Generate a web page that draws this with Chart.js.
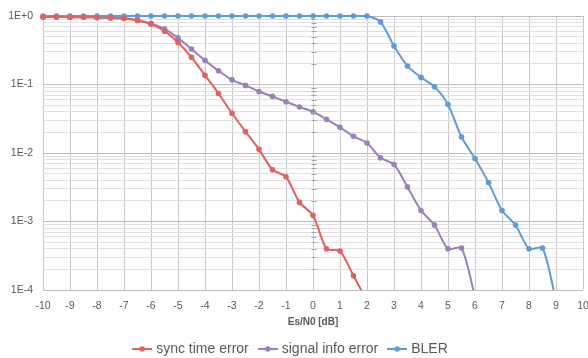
<!DOCTYPE html>
<html>
<head>
<meta charset="utf-8">
<script src="https://cdn.jsdelivr.net/npm/chart.js@4/dist/chart.umd.min.js"></script>
<style>
  html, body { margin: 0; padding: 0; background: #ffffff; }
  #wrap { width: 588px; height: 358px; }
</style>
</head>
<body>
<div id="wrap"><canvas id="c" width="588" height="358"></canvas></div>
<script>
// Es/N0 sweep points [dB]
const snr = [-10, -9.5, -9, -8.5, -8, -7.5, -7, -6.5, -6, -5.5, -5, -4.5, -4, -3.5, -3, -2.5, -2, -1.5, -1, -0.5,
             0, 0.5, 1, 1.5, 2, 2.5, 3, 3.5, 4, 4.5, 5, 5.5, 6, 6.5, 7, 7.5, 8, 8.5, 9];

// error rates, one value per sweep point starting at -10 dB
const syncTimeError = [0.97, 0.97, 0.96, 0.96, 0.95, 0.94, 0.92, 0.86, 0.76, 0.60, 0.41, 0.25, 0.136, 0.074, 0.038,
                       0.0205, 0.0113, 0.0057, 0.0045, 0.0019, 0.00123, 0.00040, 0.00037, 0.000161, 0.00007];
const signalInfoError = [0.97, 0.97, 0.96, 0.96, 0.95, 0.94, 0.925, 0.87, 0.78, 0.65, 0.48, 0.33, 0.225, 0.159, 0.117,
                         0.097, 0.079, 0.067, 0.056, 0.047, 0.040, 0.031, 0.0237, 0.0175, 0.0140, 0.0085, 0.0068,
                         0.0032, 0.00145, 0.00089, 0.00040, 0.00041, 0.00008];
const bler = [1, 1, 1, 1, 1, 1, 1, 1, 1, 1, 1, 1, 1, 1, 1, 1, 1, 1, 1, 1, 1, 1, 1, 1, 1,
              0.82, 0.365, 0.186, 0.127, 0.093, 0.051, 0.0171, 0.0083, 0.0037, 0.00145, 0.00089, 0.00040, 0.00041, 0.00007];

const xTicks = [-10, -9, -8, -7, -6, -5, -4, -3, -2, -1, 0, 1, 2, 3, 4, 5, 6, 7, 8, 9, 10];
const yDecades = [1e-4, 1e-3, 1e-2, 1e-1, 1];

const seriesNames = ['sync time error', 'signal info error', 'BLER'];
const seriesColors = ['#e0625b', '#9a80bf', '#5f9bd8'];
const seriesValues = [syncTimeError, signalInfoError, bler];

const textColor = '#595959';

function toPoints(values) {
  return values.map((v, i) => ({ x: snr[i], y: v }));
}

// legend marker: short line with a dot in the middle
function legendMarker(color) {
  const c = document.createElement('canvas');
  c.width = 20; c.height = 8;
  const g = c.getContext('2d');
  g.strokeStyle = color; g.lineWidth = 2;
  g.beginPath(); g.moveTo(0, 4); g.lineTo(20, 4); g.stroke();
  g.fillStyle = color;
  g.beginPath(); g.arc(10, 4, 2.8, 0, Math.PI * 2); g.fill();
  return c;
}

// all 1..9 x 10^n values between the decades, for the grid
function logTickValues() {
  const out = [];
  for (let i = 0; i < yDecades.length - 1; i++) {
    for (let k = 1; k <= 9; k++) out.push(yDecades[i] * k);
  }
  out.push(yDecades[yDecades.length - 1]);
  return out;
}

function isDecade(v) {
  const e = Math.log10(v);
  return Math.abs(e - Math.round(e)) < 1e-9;
}

// small tick marks on the vertical axis line that crosses at 0 dB
const axisCrossTicks = {
  id: 'axisCrossTicks',
  afterDatasetsDraw(chart) {
    const { ctx, scales } = chart;
    const x0 = Math.round(scales.x.getPixelForValue(0)) + 0.5;
    ctx.save();
    ctx.strokeStyle = '#a6a6a6';
    ctx.lineWidth = 1;
    scales.y.ticks.forEach(t => {
      if (isDecade(t.value)) return;
      const y = Math.round(scales.y.getPixelForValue(t.value)) + 0.5;
      ctx.beginPath(); ctx.moveTo(x0 - 2, y); ctx.lineTo(x0 + 3, y); ctx.stroke();
    });
    ctx.restore();
  }
};

const datasets = seriesValues.map((vals, i) => ({
  label: seriesNames[i],
  data: toPoints(vals),
  borderColor: seriesColors[i],
  backgroundColor: seriesColors[i],
  borderWidth: 2,
  pointRadius: 2.8,
  pointHoverRadius: 2.8,
  pointBorderWidth: 0,
  pointStyle: 'circle',
  legendImage: legendMarker(seriesColors[i]),
  tension: 0.25,
  clip: { left: 6, top: 6, right: 6, bottom: 0 }
}));

new Chart(document.getElementById('c'), {
  type: 'line',
  data: { datasets },
  plugins: [axisCrossTicks],
  options: {
    responsive: false,
    animation: false,
    events: [],
    layout: { padding: { top: 16, right: 5, left: 0, bottom: 0 } },
    plugins: {
      tooltip: { enabled: false },
      legend: {
        position: 'bottom',
        maxHeight: 28,
        labels: {
          usePointStyle: true,
          color: textColor,
          font: { family: 'Liberation Sans', size: 14 },
          padding: 12,
          generateLabels(chart) {
            return chart.data.datasets.map((d, i) => ({
              text: d.label,
              fillStyle: d.borderColor,
              strokeStyle: d.borderColor,
              fontColor: textColor,
              lineWidth: 0,
              pointStyle: d.legendImage,
              hidden: false,
              datasetIndex: i
            }));
          }
        }
      }
    },
    scales: {
      x: {
        type: 'linear',
        min: -10,
        max: 10,
        afterBuildTicks(scale) { scale.ticks = xTicks.map(v => ({ value: v })); },
        afterFit(scale) { scale.height = 40; scale.paddingLeft = 0; scale.paddingRight = 0; },
        ticks: {
          color: textColor,
          font: { family: 'Liberation Sans', size: 10.5 },
          padding: 10,
          autoSkip: false,
          maxRotation: 0
        },
        grid: { color: '#c9c9c9', lineWidth: 1, drawTicks: false },
        border: { display: false },
        title: {
          display: true,
          text: 'Es/N0 [dB]',
          color: textColor,
          font: { family: 'Liberation Sans', size: 10, weight: 'bold' },
          padding: { top: 4, bottom: 2 }
        }
      },
      y: {
        type: 'logarithmic',
        min: 1e-4,
        max: 1,
        afterBuildTicks(scale) { scale.ticks = logTickValues().map(v => ({ value: v, major: isDecade(v) })); },
        afterFit(scale) { scale.width = 43; scale.paddingTop = 0; scale.paddingBottom = 0; },
        ticks: {
          color: textColor,
          font: { family: 'Liberation Sans', size: 10.5 },
          padding: 10,
          autoSkip: false,
          callback(v) {
            if (!isDecade(v)) return '';
            const e = Math.round(Math.log10(v));
            return '1E' + (e >= 0 ? '+' : '') + e;
          }
        },
        grid: {
          color: ctx => (ctx.tick && isDecade(ctx.tick.value)) ? '#bdbdbd' : '#e1e1e1',
          lineWidth: 1,
          drawTicks: false
        },
        border: { display: false }
      }
    }
  }
});
</script>
</body>
</html>
